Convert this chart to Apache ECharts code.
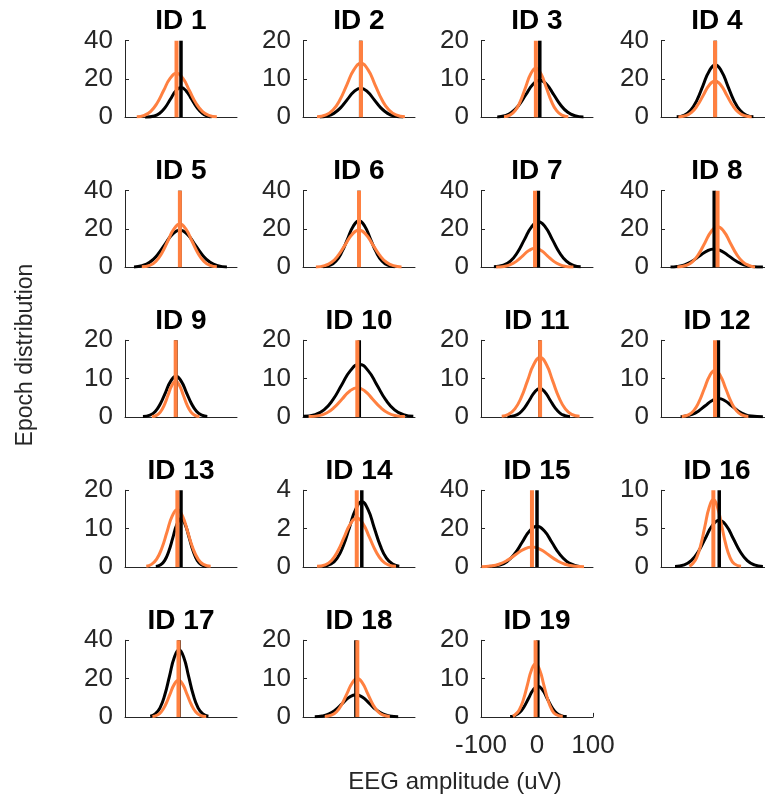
<!DOCTYPE html>
<html>
<head>
<meta charset="utf-8">
<script src="https://cdn.jsdelivr.net/npm/echarts@6/dist/echarts.min.js"></script>
<style>
  html, body { margin: 0; padding: 0; background: #ffffff; }
  #chart { width: 765px; height: 798px; }
</style>
</head>
<body>
<div id="chart"></div>
<script>
// ---- data -------------------------------------------------------------
const panelTitles = ['ID 1','ID 2','ID 3','ID 4','ID 5','ID 6','ID 7','ID 8','ID 9','ID 10',
  'ID 11','ID 12','ID 13','ID 14','ID 15','ID 16','ID 17','ID 18','ID 19'];

const xTicks = [-100, 0, 100];

// upper limit of each panel's y axis (ticks at 0, half, max)
const yMaxes = [40, 20, 20, 40, 40, 40, 40, 40, 20, 20, 20, 20, 20, 4, 40, 10, 40, 20, 20];

// mean amplitude lines (uV)
const blackMeans  = [0, 3, 5, -3, -2, 0, 2.5, -5, -9, 0.5, 5, 2.5, 0, 5, 0, 4, -3.5, -5.5, 1.5];
const orangeMeans = [-8, 3.5, -2, -3.5, -2, 0, -3.5, 1, -9.5, -3, 5.5, -3.5, -6.5, -4, -9, -6.5, -4.5, -3, -2.5];

// fitted epoch distributions: amplitude samples and counts
const blackCurveX = [
  [-64, -47.5, -38, -28.5, -19, -9.5, 0, 9.5, 19, 28.5, 38, 47.5, 55],
  [-70, -57, -45, -33, -21, -9, 3, 15, 27, 39, 51, 63, 79],
  [-71, -57.5, -45, -32.5, -20, -7.5, 5, 17.5, 30, 42.5, 55, 67.5, 83],
  [-72, -58, -47, -36, -25, -14, -3, 8, 19, 30, 41, 52, 65],
  [-84, -69.5, -56, -42.5, -29, -15.5, -2, 11.5, 25, 38.5, 52, 65.5, 82],
  [-64, -51.3, -41, -30.8, -20.5, -10.3, 0, 10.3, 20.5, 30.8, 41, 51.3, 64],
  [-77, -60, -47.5, -35, -22.5, -10, 2.5, 15, 27.5, 40, 52.5, 65, 78],
  [-83, -71.3, -58, -44.8, -31.5, -18.3, -5, 8.3, 21.5, 34.8, 48, 61.3, 82],
  [-68, -55.3, -46, -36.8, -27.5, -18.3, -9, 0.3, 9.5, 18.8, 28, 37.3, 47],
  [-99.5, -78.3, -62.5, -46.8, -31, -15.3, 0.5, 16.3, 32, 47.8, 63.5, 79.3, 97],
  [-53, -40, -31, -22, -13, -4, 5, 14, 23, 32, 41, 50, 59],
  [-65, -56.3, -44.5, -32.8, -21, -9.3, 2.5, 14.3, 26, 37.8, 49.5, 61.3, 82],
  [-45, -36.3, -29, -21.8, -14.5, -7.3, 0, 7.3, 14.5, 21.8, 29, 36.3, 46],
  [-65, -50, -39, -28, -17, -6, 5, 16, 27, 38, 49, 60, 72],
  [-87, -66.3, -53, -39.8, -26.5, -13.3, 0, 13.3, 26.5, 39.8, 53, 66.3, 76],
  [-75, -58.5, -46, -33.5, -21, -8.5, 4, 16.5, 29, 41.5, 54, 66.5, 82],
  [-55, -46, -37.5, -29, -20.5, -12, -3.5, 5, 13.5, 22, 30.5, 39, 49],
  [-79, -65.5, -53.5, -41.5, -29.5, -17.5, -5.5, 6.5, 18.5, 30.5, 42.5, 54.5, 70],
  [-48, -39.8, -31.5, -23.3, -15, -6.8, 1.5, 9.8, 18, 26.3, 34.5, 42.8, 53]
];
const blackCurveY = [
  [0.05, 0.68, 2.09, 5.04, 9.41, 13.67, 15.5, 13.67, 9.41, 5.04, 2.09, 0.68, 0.23],
  [0.08, 0.33, 1.03, 2.47, 4.61, 6.70, 7.6, 6.70, 4.61, 2.47, 1.03, 0.33, 0.08],
  [0.1, 0.43, 1.31, 3.15, 5.89, 8.56, 9.7, 8.56, 5.89, 3.15, 1.31, 0.43, 0.1],
  [0.27, 1.20, 3.69, 8.87, 16.57, 24.08, 27.3, 24.08, 16.57, 8.87, 3.69, 1.20, 0.27],
  [0.2, 0.86, 2.63, 6.34, 11.84, 17.20, 19.5, 17.20, 11.84, 6.34, 2.63, 0.86, 0.2],
  [0.24, 1.07, 3.28, 7.90, 14.75, 21.43, 24.3, 21.43, 14.75, 7.90, 3.28, 1.07, 0.24],
  [0.24, 1.05, 3.21, 7.74, 14.45, 20.99, 23.8, 20.99, 14.45, 7.74, 3.21, 1.05, 0.24],
  [0.1, 0.42, 1.30, 3.12, 5.83, 8.47, 9.6, 8.47, 5.83, 3.12, 1.30, 0.42, 0.1],
  [0.11, 0.47, 1.43, 3.45, 6.43, 9.35, 10.6, 9.35, 6.43, 3.45, 1.43, 0.47, 0.11],
  [0.14, 0.60, 1.85, 4.45, 8.32, 12.08, 13.7, 12.08, 8.32, 4.45, 1.85, 0.60, 0.14],
  [0.07, 0.33, 1.00, 2.41, 4.49, 6.53, 7.4, 6.53, 4.49, 2.41, 1.00, 0.33, 0.07],
  [0.05, 0.21, 0.65, 1.56, 2.91, 4.23, 4.8, 4.23, 2.91, 1.56, 0.65, 0.21, 0.05],
  [0.13, 0.55, 1.70, 4.10, 7.65, 11.11, 12.6, 11.11, 7.65, 4.10, 1.70, 0.55, 0.13],
  [0.03, 0.15, 0.46, 1.11, 2.06, 3.00, 3.4, 3.00, 2.06, 1.11, 0.46, 0.15, 0.03],
  [0.21, 0.93, 2.86, 6.89, 12.87, 18.70, 21.2, 18.70, 12.87, 6.89, 2.86, 0.93, 0.21],
  [0.06, 0.27, 0.82, 1.98, 3.70, 5.38, 6.1, 5.38, 3.70, 1.98, 0.82, 0.27, 0.06],
  [0.35, 1.54, 4.74, 11.41, 21.31, 30.96, 35.1, 30.96, 21.31, 11.41, 4.74, 1.54, 0.35],
  [0.06, 0.26, 0.78, 1.89, 3.52, 5.12, 5.8, 5.12, 3.52, 1.89, 0.78, 0.26, 0.06],
  [0.08, 0.35, 1.08, 2.60, 4.86, 7.06, 8, 7.06, 4.86, 2.60, 1.08, 0.35, 0.08]
];
const orangeCurveX = [
  [-79, -65.5, -54, -42.5, -31, -19.5, -8, 3.5, 15, 26.5, 38, 49.5, 64],
  [-75, -59, -46.5, -34, -21.5, -9, 3.5, 16, 28.5, 41, 53.5, 66, 82],
  [-59, -48.3, -39, -29.8, -20.5, -11.3, -2, 7.3, 16.5, 25.8, 35, 44.3, 56],
  [-69, -56, -45.5, -35, -24.5, -14, -3.5, 7, 17.5, 28, 38.5, 49, 62],
  [-70, -55.8, -45, -34.3, -23.5, -12.8, -2, 8.8, 19.5, 30.3, 41, 51.8, 64],
  [-77, -61.3, -49, -36.8, -24.5, -12.3, 0, 12.3, 24.5, 36.8, 49, 61.3, 76],
  [-73, -58.5, -47.5, -36.5, -25.5, -14.5, -3.5, 7.5, 18.5, 29.5, 40.5, 51.5, 65],
  [-71, -55.3, -44, -32.8, -21.5, -10.3, 1, 12.3, 23.5, 34.8, 46, 57.3, 68],
  [-52, -43.8, -36.9, -30.1, -23.2, -16.4, -9.5, -2.7, 4.2, 11.1, 17.9, 24.8, 33],
  [-90, -71.8, -58, -44.3, -30.5, -16.8, -3, 10.8, 24.5, 38.3, 52, 65.8, 82],
  [-63, -50.8, -39.5, -28.3, -17, -5.8, 5.5, 16.8, 28, 39.3, 50.5, 61.8, 76],
  [-63, -51, -41.5, -32, -22.5, -13, -3.5, 6, 15.5, 25, 34.5, 44, 56],
  [-62, -52.8, -43.5, -34.3, -25, -15.8, -6.5, 2.8, 12, 21.3, 30.5, 39.8, 53],
  [-75, -60.3, -49, -37.8, -26.5, -15.3, -4, 7.3, 18.5, 29.8, 41, 52.3, 66],
  [-99, -82.8, -68, -53.3, -38.5, -23.8, -9, 5.8, 20.5, 35.3, 50, 64.8, 84],
  [-49.5, -44, -36.5, -29, -21.5, -14, -6.5, 1, 8.5, 16, 23.5, 31, 43],
  [-51, -43.3, -35.5, -27.8, -20, -12.3, -4.5, 3.3, 11, 18.8, 26.5, 34.3, 45],
  [-61, -49.3, -40, -30.8, -21.5, -12.3, -3, 6.3, 15.5, 24.8, 34, 43.3, 55],
  [-43, -38.8, -31.5, -24.3, -17, -9.8, -2.5, 4.8, 12, 19.3, 26.5, 33.8, 46]
];
const orangeCurveY = [
  [0.23, 1.01, 3.11, 7.48, 13.96, 20.29, 23, 20.29, 13.96, 7.48, 3.11, 1.01, 0.23],
  [0.14, 0.62, 1.90, 4.58, 8.56, 12.44, 14.1, 12.44, 8.56, 4.58, 1.90, 0.62, 0.14],
  [0.13, 0.56, 1.73, 4.16, 7.77, 11.29, 12.8, 11.29, 7.77, 4.16, 1.73, 0.56, 0.13],
  [0.19, 0.84, 2.57, 6.18, 11.53, 16.76, 19, 16.76, 11.53, 6.18, 2.57, 0.84, 0.19],
  [0.23, 0.99, 3.05, 7.35, 13.72, 19.93, 22.6, 19.93, 13.72, 7.35, 3.05, 0.99, 0.23],
  [0.2, 0.86, 2.63, 6.34, 11.84, 17.20, 19.5, 17.20, 11.84, 6.34, 2.63, 0.86, 0.2],
  [0.1, 0.44, 1.34, 3.22, 6.01, 8.73, 9.9, 8.73, 6.01, 3.22, 1.34, 0.44, 0.1],
  [0.21, 0.93, 2.86, 6.89, 12.87, 18.70, 21.2, 18.70, 12.87, 6.89, 2.86, 0.93, 0.21],
  [0.09, 0.41, 1.26, 3.02, 5.64, 8.20, 9.3, 8.20, 5.64, 3.02, 1.26, 0.41, 0.09],
  [0.08, 0.33, 1.03, 2.47, 4.61, 6.70, 7.6, 6.70, 4.61, 2.47, 1.03, 0.33, 0.08],
  [0.16, 0.68, 2.09, 5.04, 9.41, 13.67, 15.5, 13.67, 9.41, 5.04, 2.09, 0.68, 0.16],
  [0.12, 0.54, 1.65, 3.97, 7.41, 10.76, 12.2, 10.76, 7.41, 3.97, 1.65, 0.54, 0.12],
  [0.15, 0.66, 2.03, 4.88, 9.11, 13.23, 15, 13.23, 9.11, 4.88, 2.03, 0.66, 0.15],
  [0.03, 0.11, 0.34, 0.83, 1.55, 2.25, 2.55, 2.25, 1.55, 0.83, 0.34, 0.11, 0.03],
  [0.1, 0.46, 1.40, 3.38, 6.31, 9.17, 10.4, 9.17, 6.31, 3.38, 1.40, 0.46, 0.1],
  [0.09, 0.39, 1.19, 2.86, 5.34, 7.76, 8.8, 7.76, 5.34, 2.86, 1.19, 0.39, 0.09],
  [0.19, 0.84, 2.58, 6.21, 11.59, 16.85, 19.1, 16.85, 11.59, 6.21, 2.58, 0.84, 0.19],
  [0.1, 0.44, 1.35, 3.25, 6.07, 8.82, 10, 8.82, 6.07, 3.25, 1.35, 0.44, 0.1],
  [0.14, 0.61, 1.88, 4.52, 8.44, 12.26, 13.9, 12.26, 8.44, 4.52, 1.88, 0.61, 0.14]
];

// ---- layout & style ---------------------------------------------------
const colLeft = [125, 303, 481, 661];
const rowTop = [40.7, 190.7, 340.3, 490.3, 640.3];
const PANEL_W = 112;
const PANEL_H = 76.6;
const AXIS_COLOR = '#262626';
const BLACK = '#000000';
const ORANGE = '#ff8040';
const FONT = 'Arial, "Liberation Sans", Helvetica, sans-serif';

const zip = (xs, ys) => xs.map((x, k) => [x, ys[k]]);

const grids = [], xAxes = [], yAxes = [], series = [], graphics = [];

panelTitles.forEach((name, i) => {
  const col = i % 4, row = Math.floor(i / 4);
  const left = colLeft[col], top = rowTop[row];
  const showX = i === panelTitles.length - 1;

  grids.push({ left, top, width: PANEL_W, height: PANEL_H, outerBoundsMode: 'none' });

  xAxes.push({
    type: 'value', gridIndex: i,
    min: xTicks[0], max: xTicks[xTicks.length - 1], interval: xTicks[1] - xTicks[0],
    axisLine: { show: true, onZero: false, lineStyle: { color: AXIS_COLOR, width: 1 } },
    axisTick: { show: showX, inside: true, length: 4, lineStyle: { color: AXIS_COLOR } },
    axisLabel: { show: showX, fontSize: 26, color: AXIS_COLOR, fontFamily: FONT, margin: 16,
                 showMinLabel: true, showMaxLabel: true },
    splitLine: { show: false }
  });

  yAxes.push({
    type: 'value', gridIndex: i,
    min: 0, max: yMaxes[i], interval: yMaxes[i] / 2,
    axisLine: { show: true, onZero: false, lineStyle: { color: AXIS_COLOR, width: 1 } },
    axisTick: { show: true, inside: true, length: 4, lineStyle: { color: AXIS_COLOR } },
    axisLabel: { fontSize: 26, color: AXIS_COLOR, fontFamily: FONT, margin: 12,
                 showMinLabel: true, showMaxLabel: true },
    splitLine: { show: false }
  });

  const common = { type: 'line', xAxisIndex: i, yAxisIndex: i, showSymbol: false,
                   symbol: 'none', silent: true, animation: false };

  series.push(Object.assign({}, common, {
    smooth: true, data: zip(blackCurveX[i], blackCurveY[i]),
    lineStyle: { color: BLACK, width: 3 }
  }));
  series.push(Object.assign({}, common, {
    smooth: true, data: zip(orangeCurveX[i], orangeCurveY[i]),
    lineStyle: { color: ORANGE, width: 3 }
  }));
  series.push(Object.assign({}, common, {
    data: [[blackMeans[i], 0], [blackMeans[i], yMaxes[i]]],
    lineStyle: { color: BLACK, width: 3.5, cap: 'butt' }
  }));
  series.push(Object.assign({}, common, {
    data: [[orangeMeans[i], 0], [orangeMeans[i], yMaxes[i]]],
    lineStyle: { color: ORANGE, width: 4, cap: 'butt' }
  }));

  graphics.push({
    type: 'text', x: left + PANEL_W / 2, y: top - 19,
    style: { text: name, fill: '#000000', font: 'bold 28px ' + FONT,
             align: 'center', verticalAlign: 'middle',
             textAlign: 'center', textVerticalAlign: 'middle' }
  });
});

graphics.push({
  type: 'text', x: 455, y: 782,
  style: { text: 'EEG amplitude (uV)', fill: AXIS_COLOR, font: '24px ' + FONT,
           align: 'center', verticalAlign: 'middle', textAlign: 'center', textVerticalAlign: 'middle' }
});
graphics.push({
  type: 'text', x: 26, y: 355, rotation: Math.PI / 2,
  style: { text: 'Epoch distribution', fill: AXIS_COLOR, font: '23px ' + FONT,
           align: 'center', verticalAlign: 'middle', textAlign: 'center', textVerticalAlign: 'middle' }
});

const chart = echarts.init(document.getElementById('chart'), null, { renderer: 'canvas' });
chart.setOption({
  animation: false,
  backgroundColor: '#ffffff',
  grid: grids,
  xAxis: xAxes,
  yAxis: yAxes,
  series: series,
  graphic: graphics
});
</script>
</body>
</html>
